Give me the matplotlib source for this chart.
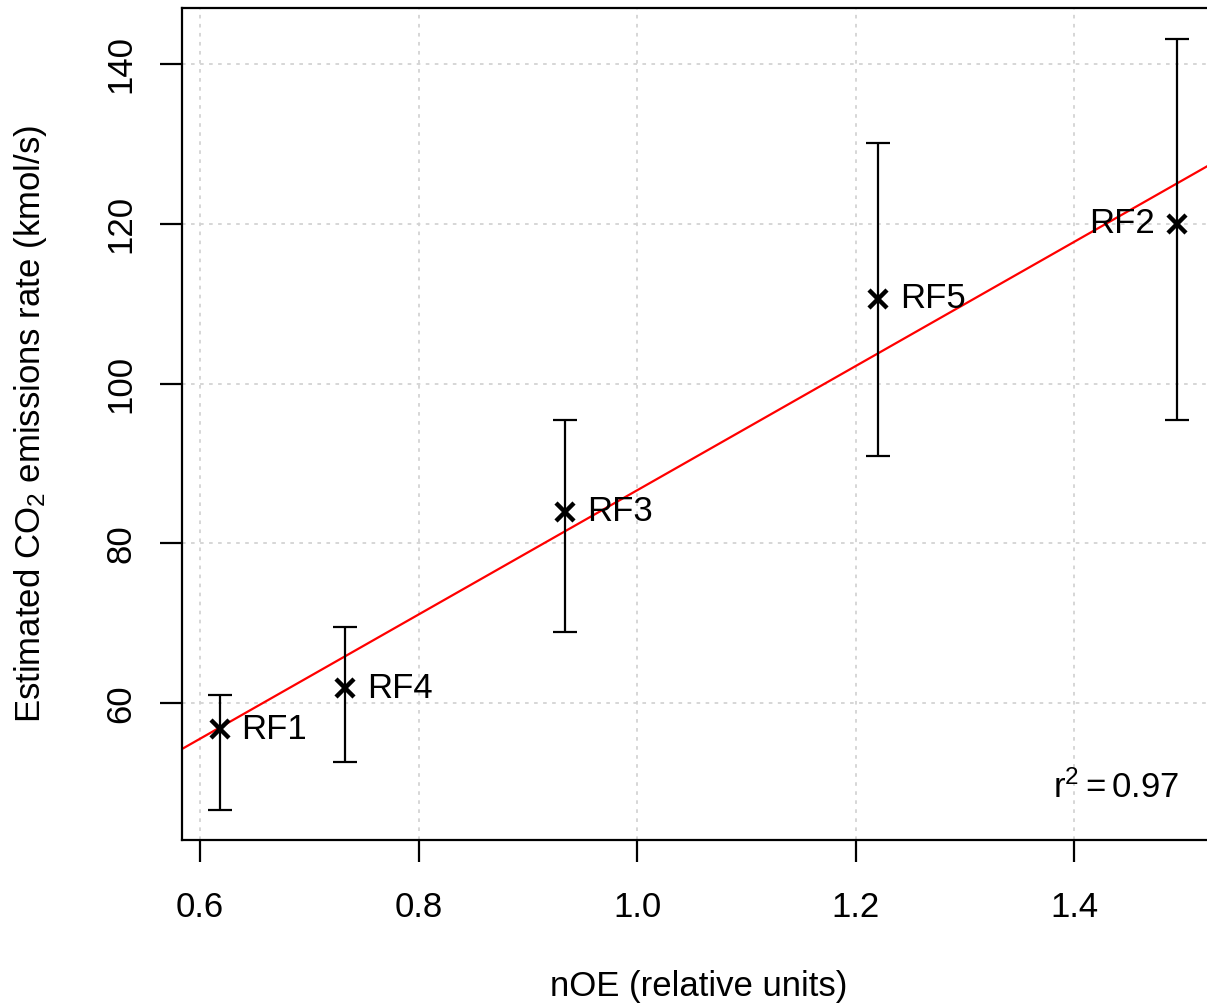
import numpy as np
import matplotlib
matplotlib.use("Agg")
import matplotlib.pyplot as plt

plt.rcParams['font.family'] = ['Liberation Sans', 'DejaVu Sans']
plt.rcParams['mathtext.fontset'] = 'custom'
plt.rcParams['mathtext.rm'] = 'Liberation Sans'
plt.rcParams['mathtext.it'] = 'Liberation Sans'

# data
flights = ['RF1', 'RF4', 'RF3', 'RF5', 'RF2']
noe = [0.618, 0.733, 0.934, 1.221, 1.494]
co2 = [56.75, 61.9, 84.0, 110.6, 120.0]
co2_hi = [61.1, 69.6, 95.4, 130.1, 143.1]
co2_lo = [46.6, 52.6, 68.9, 90.9, 95.5]
r2_text = r'$\mathrm{r}^2 = 0.97$'

fs = 25

fig = plt.figure(figsize=(12.07, 10.06), dpi=100)
ax = fig.add_axes([182/1207, 166/1006, (1215-182)/1207, (840-8)/1006])

x = np.array(noe)
y = np.array(co2)
yerr = [y - np.array(co2_lo), np.array(co2_hi) - y]

ax.grid(True, color='#d3d3d3', linestyle=(0, (2, 3)), linewidth=1.3)
ax.set_axisbelow(True)

ax.errorbar(x, y, yerr=yerr, fmt='none', ecolor='black', elinewidth=1.6,
            capsize=8.5, capthick=1.6, zorder=3)
ax.plot(x, y, 'x', color='black', markersize=13, markeredgewidth=3.2, zorder=4)

# least-squares line through the points
slope, icpt = np.polyfit(x, y, 1)
xl = np.array([0.5, 1.6])
ax.plot(xl, icpt + slope * xl, color='red', linewidth=1.6, zorder=2)

for name, xi, yi in zip(flights, noe, co2):
    if name == 'RF2':
        ax.text(xi - 0.02, yi, name, ha='right', va='center', fontsize=fs, zorder=5)
    else:
        ax.text(xi + 0.02, yi, name, ha='left', va='center', fontsize=fs, zorder=5)

ax.text(1.496, 49.4, r2_text, ha='right', va='center', fontsize=fs)

ax.set_xlim(0.5835, 0.5835 + (1215-182)/1092.5)
ax.set_ylim(42.9, 147.0)
ax.set_xticks([0.6, 0.8, 1.0, 1.2, 1.4])
ax.set_xticklabels(['0.6', '0.8', '1.0', '1.2', '1.4'])
ax.set_yticks([60, 80, 100, 120, 140])
ax.tick_params(axis='x', direction='out', length=16, width=1.6,
               labelsize=fs, pad=21)
ax.tick_params(axis='y', direction='out', length=16, width=1.6,
               labelsize=fs, pad=16)
plt.setp(ax.get_yticklabels(), rotation=90, va='center')

for sp in ax.spines.values():
    sp.set_linewidth(1.6)

ax.set_xlabel('nOE (relative units)', fontsize=fs, labelpad=33)
ax.set_ylabel(r'Estimated CO$_2$ emissions rate (kmol/s)', fontsize=fs, labelpad=40)

fig.savefig('out.png', dpi=100)
